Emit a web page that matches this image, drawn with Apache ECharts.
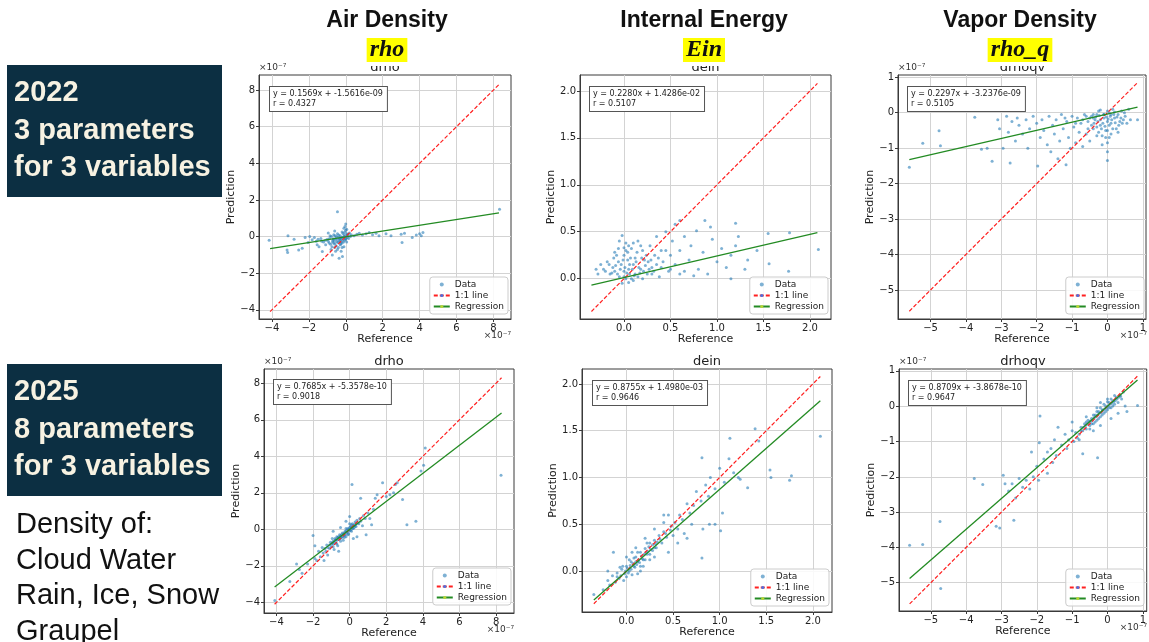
<!DOCTYPE html>
<html><head><meta charset="utf-8">
<script src="https://cdn.jsdelivr.net/npm/echarts@6/dist/echarts.min.js"></script>
<style>html,body{margin:0;padding:0;background:#fff}#c{width:1149px;height:642px}</style>
</head><body><div id="c"></div>
<script>
// ---------- DATA (units as shown on axes; drho & drhoqv in 1e-7) ----------
const columnHeaders = ['Air Density', 'Internal Energy', 'Vapor Density'];
const columnSymbols = ['rho', 'Ein', 'rho_q'];
const panelTitles = ['drho', 'dein', 'drhoqv', 'drho', 'dein', 'drhoqv'];
const rowLabels = [['2022', '3 parameters', 'for 3 variables'], ['2025', '8 parameters', 'for 3 variables']];
const noteLines = ['Density of:', 'Cloud Water', 'Rain, Ice, Snow', 'Graupel'];

const equations = [
  'y = 0.1569x + -1.5616e-09\nr = 0.4327',
  'y = 0.2280x + 1.4286e-02\nr = 0.5107',
  'y = 0.2297x + -3.2376e-09\nr = 0.5105',
  'y = 0.7685x + -5.3578e-10\nr = 0.9018',
  'y = 0.8755x + 1.4980e-03\nr = 0.9646',
  'y = 0.8709x + -3.8678e-10\nr = 0.9647'
];

const ticksRho = [-4, -2, 0, 2, 4, 6, 8];
const ticksEin = [0, 0.5, 1.0, 1.5, 2.0];
const ticksQv = [-5, -4, -3, -2, -1, 0, 1];

// 1:1 line and regression line endpoints
const oneToOne = [
  [[-4.1, -4.1], [8.3, 8.3]],
  [[-0.35, -0.35], [2.08, 2.08]],
  [[-5.6, -5.6], [0.85, 0.85]],
  [[-4.1, -4.1], [8.3, 8.3]],
  [[-0.35, -0.35], [2.08, 2.08]],
  [[-5.6, -5.6], [0.85, 0.85]]
];
const regression = [
  [[-4.1, -0.66], [8.3, 1.29]],
  [[-0.35, -0.07], [2.08, 0.49]],
  [[-5.6, -1.32], [0.85, 0.16]],
  [[-4.1, -3.16], [8.3, 6.37]],
  [[-0.35, -0.31], [2.08, 1.82]],
  [[-5.6, -4.88], [0.85, 0.74]]
];

const pts2022Rho = [[8.33,1.49],[-4.15,-0.2],[-3.18,-0.73],[-3.15,-0.87],[-3.13,0.04],[-2.55,-0.73],[-2.36,-0.64],[-2.04,-0.33],[-1.95,0.0],[-1.82,-0.18],[-1.7,-0.05],[-1.55,-0.45],[-1.45,-0.55],[-1.27,-0.82],[-1.09,-0.45],[-1.6,-0.25],[-1.35,-0.1],[-1.2,-0.3],[-1.0,-0.15],[-0.9,-0.35],[-0.85,0.05],[-0.75,-0.55],[-0.7,-0.2],[-0.65,0.1],[-0.6,-0.4],[-0.55,-0.1],[-0.5,-0.3],[-0.45,1.36],[-0.45,0.15],[-0.4,-0.6],[-0.4,-0.05],[-0.35,-0.25],[-0.3,0.05],[-0.3,-0.45],[-0.25,-0.15],[-0.2,0.25],[-0.2,-0.35],[-0.15,-0.05],[-0.1,-0.55],[-0.1,0.1],[-0.05,-0.2],[0.0,0.69],[-0.04,0.55],[0.0,0.35],[0.0,-0.1],[0.05,-0.3],[0.05,0.15],[0.1,0.05],[0.15,-0.1],[0.2,0.2],[0.25,0.0],[0.3,0.1],[-0.36,-1.18],[-0.18,-1.09],[-0.73,-1.0],[-0.55,-0.8],[-0.25,-0.8],[0.45,0.05],[0.6,0.12],[0.73,0.18],[0.9,0.08],[1.1,0.15],[1.27,0.22],[1.45,0.1],[1.64,0.18],[1.8,0.05],[2.18,0.15],[2.45,0.04],[3.0,0.13],[3.05,-0.33],[3.18,0.18],[3.6,-0.05],[3.82,0.09],[4.0,0.15],[4.18,0.22],[4.09,0.04],[-2.8,-0.15],[-2.2,-0.05],[-0.8,-0.7],[-0.95,0.2],[-0.6,0.3],
  [-0.95,-0.25],[-0.88,-0.1],[-0.82,-0.42],[-0.78,0.0],[-0.72,-0.3],[-0.68,-0.12],[-0.62,-0.22],[-0.58,0.05],[-0.52,-0.5],[-0.48,-0.18],[-0.42,-0.32],[-0.38,0.08],[-0.33,-0.1],[-0.28,-0.28],[-0.22,-0.05],[-0.18,-0.2],[-0.12,-0.3],[-0.08,0.0],[-0.02,-0.15],[0.02,0.05],[0.08,-0.05],[0.12,0.12],[-0.5,0.0],[-0.27,-0.4],[-0.15,0.18],[-0.35,-0.15],[-0.65,-0.35],[-1.1,-0.2],[-1.3,-0.25],[-1.5,-0.15],[-0.05,0.25],[0.05,0.4],[-0.1,0.45],[-0.2,-0.6],[-0.45,-0.7],[-0.6,-0.6]];
const pts2022Ein = [[2.09,0.31],[1.77,0.08],[1.56,0.16],[1.55,0.48],[1.78,0.49],[1.43,0.3],[1.33,0.2],[1.3,0.1],[1.2,0.59],[1.23,0.45],[1.15,0.25],[1.1,0.12],[1.05,0.32],[0.95,0.42],[0.93,0.55],[0.87,0.62],[0.78,0.51],[0.72,0.35],[0.65,0.45],[0.6,0.62],[0.55,0.58],[0.52,0.4],[0.5,0.25],[0.45,0.5],[0.4,0.3],[0.35,0.45],[1.15,0.0],[0.9,0.05],[0.8,0.1],[0.7,0.2],[0.65,0.08],[0.55,0.15],[1.0,0.18],[1.2,0.35],[0.85,0.28],[0.75,0.03],[0.6,0.3],[0.48,0.08],[0.42,0.18],[0.38,0.02],[0.33,0.25],[0.3,0.12],[0.28,0.35],[0.25,0.05],[0.22,0.2],[0.2,0.3],[0.18,0.1],[0.15,0.4],[0.15,0.02],[0.12,0.22],[0.1,0.15],[0.08,0.32],[0.06,0.05],[0.05,0.1],[0.04,0.2],[0.02,0.38],[0.02,0.0],[0.0,0.08],[-0.02,0.46],[-0.03,0.15],[-0.05,0.4],[-0.05,0.02],[-0.08,0.25],[-0.1,0.28],[-0.1,0.08],[-0.12,0.12],[-0.15,0.05],[-0.18,0.18],[-0.2,0.08],[-0.25,0.15],[-0.28,0.05],[-0.3,0.1],[-0.02,-0.05],[0.05,-0.04],[0.1,-0.02],[0.2,0.0],[0.3,0.05],[0.08,0.0],[0.12,0.05],[0.0,0.25],[-0.06,0.32],
  [0.0,0.02],[0.01,0.12],[0.03,0.06],[0.04,0.28],[0.06,0.15],[0.07,0.22],[0.09,0.1],[0.11,0.03],[0.13,0.18],[0.14,0.28],[0.16,0.12],[0.17,0.06],[0.19,0.22],[0.21,0.08],[0.23,0.14],[0.24,0.25],[0.26,0.18],[0.27,0.1],[0.29,0.2],[0.32,0.08],[0.35,0.15],[0.37,0.22],[-0.01,0.2],[-0.04,0.1],[-0.06,0.18],[-0.07,0.05],[-0.09,0.14],[-0.11,0.22],[-0.13,0.06],[-0.16,0.15],[-0.22,0.1],[0.02,0.3],[0.05,0.35],[0.1,0.38],[0.0,0.33],[0.18,0.35],[0.4,0.12],[0.45,0.3],[0.5,0.1],[0.6,0.05]];
const pts2022Qv = [[-5.6,-1.54],[-5.22,-0.86],[-4.76,-0.51],[-4.72,-0.93],[-3.75,-0.13],[-3.56,-1.03],[-3.26,-1.37],[-2.75,-1.42],[-3.4,-1.0],[-3.1,-0.2],[-3.05,-0.45],[-2.95,-1.0],[-2.85,-0.1],[-2.8,-0.55],[-2.7,-0.25],[-2.6,-0.8],[-2.55,-0.15],[-2.5,-0.35],[-2.4,-0.6],[-2.3,-0.2],[-2.25,-1.0],[-2.2,-0.45],[-2.1,-0.1],[-2.0,-0.3],[-1.97,-1.5],[-1.9,-0.7],[-1.85,-0.2],[-1.8,-0.5],[-1.7,-0.9],[-1.65,-0.1],[-1.6,-1.1],[-1.55,-0.35],[-1.5,-0.6],[-1.45,-0.2],[-1.4,-1.3],[-1.35,-0.8],[-1.3,-0.05],[-1.25,-0.45],[-1.17,-1.47],[-1.15,-0.25],[-1.1,-0.7],[-1.05,-1.0],[-1.0,-0.1],[-0.95,-0.4],[-0.9,-0.85],[-0.85,-0.15],[-0.8,-0.55],[-0.75,-0.3],[-0.7,-0.95],[-0.65,-0.05],[-0.6,-0.6],[-0.55,-0.25],[-0.5,-0.8],[-0.45,-0.1],[-0.4,-0.45],[-0.35,-0.2],[-0.3,-0.65],[-0.25,0.05],[-0.2,-0.35],[-0.15,-0.9],[-0.1,-0.15],[-0.05,-0.5],[0.0,-1.35],[0.0,-1.1],[0.0,-0.25],[0.05,0.0],[0.05,-0.7],[0.1,-0.3],[0.15,0.1],[0.2,-0.15],[0.25,-0.45],[0.3,-0.05],[0.35,-0.25],[0.4,0.05],[0.45,-0.2],[0.5,-0.1],[0.55,-0.3],[0.85,-0.2],[-0.3,-0.05],[-0.2,0.08],[-0.1,-0.05],[0.1,-0.05],[0.2,0.02],[-0.4,-0.15],[0.0,0.05],
  [-0.7,-0.2],[-0.6,-0.1],[-0.55,-0.45],[-0.5,-0.15],[-0.45,-0.35],[-0.4,-0.05],[-0.38,-0.3],[-0.33,-0.12],[-0.3,-0.4],[-0.27,-0.25],[-0.23,-0.08],[-0.2,-0.2],[-0.17,-0.45],[-0.13,-0.3],[-0.1,-0.05],[-0.07,-0.38],[-0.03,-0.12],[0.0,-0.5],[0.02,-0.18],[0.05,-0.35],[0.08,-0.1],[0.12,-0.2],[0.15,-0.45],[0.18,-0.05],[0.22,-0.28],[0.27,-0.12],[0.32,-0.35],[0.38,-0.15],[0.42,-0.3],[0.48,0.0],[-0.05,-0.7],[0.1,-0.6],[-0.15,-0.65],[0.0,-0.85],[-0.25,-0.55],[0.3,-0.55],[0.6,0.1],[0.65,-0.2],[-0.9,-0.3],[-1.2,-0.15]];
const pts2025Rho = [[8.27,2.96],[4.13,4.45],[4.04,3.51],[3.9,3.2],[3.62,0.45],[3.13,0.25],[2.89,1.64],[2.6,2.55],[2.5,2.45],[2.4,2.0],[2.2,1.9],[2.0,1.8],[1.8,2.55],[1.5,1.9],[1.4,1.7],[1.2,0.25],[0.13,2.45],[-2.0,-0.33],[-4.09,-3.89],[-3.27,-2.85],[-2.9,-1.9],[-2.6,-2.4],[-2.75,-2.2],[-2.3,-1.9],[-1.9,-1.6],[-1.7,-1.2],[-1.5,-1.0],[-1.2,-1.4],[-1.9,-0.9],[-1.8,-1.7],[-1.6,-1.5],[-1.45,-1.3],[-1.35,-1.05],[-1.25,-0.85],[-1.1,-1.05],[-1.05,-0.7],[-1.0,-0.95],[-0.95,-0.5],[-0.9,-0.8],[-0.85,-1.1],[-0.8,-0.6],[-0.75,-0.75],[-0.7,-0.4],[-0.65,-0.9],[-0.6,-0.55],[-0.55,-0.3],[-0.5,-0.65],[-0.45,-0.45],[-0.4,-0.2],[-0.35,-0.6],[-0.3,-0.35],[-0.25,-0.1],[-0.2,-0.4],[-0.15,-0.2],[-0.1,0.05],[-0.05,-0.25],[0.0,-0.05],[0.0,0.7],[0.05,0.15],[0.1,-0.1],[0.15,0.3],[0.2,0.05],[0.25,0.25],[0.3,0.4],[0.35,0.15],[0.4,0.5],[0.5,0.3],[0.55,0.6],[0.6,0.45],[0.7,0.2],[0.75,0.75],[0.85,0.6],[0.9,-0.3],[1.0,0.9],[1.1,0.6],[1.3,1.1],[0.6,1.7],[0.4,-0.4],[0.2,-0.5],[-0.2,0.45],[-0.5,0.1],[-0.9,-0.1],[-1.4,-1.7],[-0.6,-1.2],
  [-1.3,-1.2],[-1.2,-1.0],[-1.1,-0.85],[-1.0,-0.8],[-0.95,-0.75],[-0.9,-0.65],[-0.85,-0.7],[-0.8,-0.5],[-0.75,-0.55],[-0.7,-0.6],[-0.65,-0.45],[-0.6,-0.4],[-0.55,-0.5],[-0.5,-0.35],[-0.45,-0.3],[-0.4,-0.4],[-0.35,-0.25],[-0.3,-0.2],[-0.25,-0.3],[-0.2,-0.15],[-0.15,-0.05],[-0.1,-0.15],[-0.05,0.0],[0.0,0.1],[0.05,-0.05],[0.1,0.1],[0.15,0.05],[0.2,0.2],[0.25,0.1],[0.3,0.2],[0.35,0.3],[0.45,0.35],[-0.5,-0.5],[-0.7,-0.8],[-0.9,-0.95],[-0.3,-0.45],[-0.1,-0.3],[0.1,0.25],[-0.2,0.05],[0.0,0.3]];
const pts2025Ein = [[2.08,1.44],[1.77,1.02],[1.75,0.97],[1.54,1.08],[1.55,1.0],[1.42,1.39],[1.38,1.52],[1.3,0.89],[1.11,1.42],[1.2,1.0],[1.22,0.98],[1.01,0.43],[0.95,0.5],[0.89,0.5],[0.81,1.21],[0.81,0.14],[0.82,0.45],[1.03,0.62],[1.15,1.05],[1.1,1.2],[1.05,0.95],[1.0,1.1],[0.95,0.88],[0.9,1.0],[0.88,0.8],[0.85,0.92],[0.8,0.75],[0.75,0.85],[0.72,0.7],[0.7,0.5],[0.68,0.62],[0.65,0.72],[0.62,0.4],[0.6,0.55],[0.57,0.6],[0.55,0.45],[0.52,0.52],[0.5,0.38],[0.48,0.48],[0.45,0.6],[0.43,0.36],[0.4,0.42],[0.38,0.3],[0.35,0.38],[0.32,0.25],[0.3,0.33],[0.28,0.22],[0.25,0.3],[0.22,0.18],[0.2,0.24],[0.18,0.12],[0.15,0.2],[0.12,0.1],[0.1,0.15],[0.08,0.05],[0.05,0.1],[0.03,0.0],[0.0,0.05],[-0.02,-0.03],[-0.05,0.02],[-0.08,-0.08],[-0.1,-0.02],[-0.12,-0.12],[-0.15,-0.05],[-0.18,-0.15],[-0.2,-0.1],[-0.25,-0.2],[-0.35,-0.25],[-0.2,0.0],[-0.14,0.2],[0.0,0.15],[0.1,0.25],[0.15,0.05],[0.2,0.35],[0.25,0.12],[0.3,0.45],[0.4,0.6],[0.45,0.2],[0.55,0.3],[0.65,0.35],[0.3,0.15],[0.06,0.2],[0.12,-0.03],[0.4,0.52],
  [-0.1,-0.06],[-0.06,-0.05],[-0.04,0.05],[-0.01,0.0],[0.01,0.03],[0.02,-0.02],[0.04,0.06],[0.05,0.02],[0.07,0.08],[0.09,0.04],[0.1,0.1],[0.11,0.07],[0.13,0.12],[0.14,0.09],[0.16,0.16],[0.17,0.13],[0.19,0.18],[0.21,0.2],[0.23,0.21],[0.24,0.26],[0.26,0.23],[0.28,0.28],[0.31,0.29],[0.33,0.31],[0.36,0.34],[0.03,0.12],[0.0,-0.06],[-0.07,0.04],[0.06,-0.04],[0.08,0.14],[0.15,0.0],[0.2,0.12],[0.12,0.2],[0.25,0.18],[0.3,0.25],[-0.03,-0.1],[0.18,0.05],[0.22,0.3],[0.42,0.4],[0.47,0.44]];
const pts2025Qv = [[-5.6,-3.94],[-5.23,-3.92],[-4.74,-3.27],[-4.72,-5.16],[-3.77,-2.05],[-3.53,-2.22],[-3.15,-3.4],[-3.05,-3.45],[-2.95,-1.96],[-2.9,-2.2],[-2.8,-2.4],[-2.7,-2.2],[-2.65,-3.23],[-2.5,-2.05],[-2.4,-2.3],[-2.3,-2.1],[-2.2,-2.35],[-2.1,-2.0],[-1.91,-0.28],[-1.93,-1.04],[-2.15,-1.3],[-2.0,-1.7],[-1.95,-2.1],[-1.8,-1.5],[-1.7,-1.3],[-1.6,-1.2],[-1.5,-0.95],[-1.45,-1.4],[-1.4,-0.6],[-1.3,-1.1],[-1.2,-0.8],[-1.15,-1.2],[-1.1,-0.95],[-1.0,-0.7],[-0.95,-1.0],[-0.9,-0.75],[-0.85,-0.9],[-0.8,-0.8],[-0.75,-0.6],[-0.7,-1.35],[-0.7,-0.7],[-0.65,-0.5],[-0.6,-0.65],[-0.55,-0.4],[-0.5,-0.55],[-0.45,-0.35],[-0.4,-0.5],[-0.35,-0.25],[-0.3,-0.4],[-0.28,-1.46],[-0.25,-0.15],[-0.2,-0.3],[-0.15,-0.1],[-0.1,-0.2],[-0.05,0.0],[0.0,-0.1],[0.05,0.1],[0.1,-0.05],[0.15,0.15],[0.2,0.05],[0.25,0.25],[0.3,0.1],[0.35,0.3],[0.4,0.2],[0.45,0.4],[0.5,0.0],[0.55,-0.15],[0.85,0.02],[-0.6,-0.3],[-0.4,-0.7],[-0.2,0.1],[0.0,0.2],[0.1,-0.35],[-0.3,-0.05],[-1.7,-1.9],[-1.55,-1.6],[-2.6,-2.6],[-1.0,-0.45],[-0.2,-0.55],[0.3,-0.2],
  [-0.75,-0.7],[-0.68,-0.6],[-0.62,-0.55],[-0.57,-0.5],[-0.52,-0.45],[-0.48,-0.42],[-0.43,-0.4],[-0.38,-0.33],[-0.33,-0.3],[-0.28,-0.25],[-0.23,-0.2],[-0.18,-0.18],[-0.13,-0.12],[-0.08,-0.08],[-0.03,-0.05],[0.02,0.0],[0.07,0.05],[0.12,0.08],[0.17,0.12],[0.22,0.15],[0.27,0.2],[0.32,0.25],[0.37,0.28],[-0.45,-0.5],[-0.35,-0.45],[-0.25,-0.35],[-0.15,-0.25],[-0.05,-0.15],[0.05,-0.05],[0.15,0.0],[-0.4,-0.25],[-0.3,-0.15],[-0.2,-0.05],[-0.1,0.05],[0.0,0.12],[0.1,0.2],[0.2,0.3],[-0.6,-0.45],[-0.5,-0.65],[-0.8,-0.95]];

const scatterData = [pts2022Rho, pts2022Ein, pts2022Qv, pts2025Rho, pts2025Ein, pts2025Qv];

// ---------- LAYOUT / STYLE ----------
const frames = [
  {left:259, top:75, width:252, height:244, xr:[-4.7,8.95], yr:[-4.5,8.82], kind:'rho'},
  {left:580, top:75, width:251, height:244, xr:[-0.473,2.226], yr:[-0.43,2.17], kind:'ein'},
  {left:898, top:75, width:249, height:244, xr:[-5.92,1.09], yr:[-5.82,1.065], kind:'qv'},
  {left:264, top:369, width:250, height:244, xr:[-4.68,8.98], yr:[-4.58,8.78], kind:'rho'},
  {left:582, top:369, width:250, height:243, xr:[-0.477,2.205], yr:[-0.438,2.16], kind:'ein'},
  {left:899, top:369, width:248, height:242, xr:[-5.9,1.11], yr:[-5.8,1.05], kind:'qv'}
];
const legendTop = [277, 277, 277, 568, 569, 569];
const eqPos = [[269,86],[589,86],[907,86],[273,379],[592,380],[908,380]];

const MPL = 'DejaVu Sans';
const minus = v => (v < 0 ? '\u2212' : '');
const fmtInt = v => minus(v) + Math.abs(Math.round(v));
const fmt1 = v => minus(v) + Math.abs(v).toFixed(1);
const tickFor = k => k === 'rho' ? ticksRho : (k === 'ein' ? ticksEin : ticksQv);
const fmtFor = k => k === 'ein' ? fmt1 : fmtInt;
const W = 1149;

const grids = [], xAxes = [], yAxes = [], series = [], legends = [], graphics = [];

frames.forEach((f, i) => {
  grids.push({left:f.left, top:f.top, width:f.width, height:f.height, show:true,
    borderColor:'#3a3a3a', borderWidth:1, backgroundColor:'transparent', containLabel:false});
  const ticks = tickFor(f.kind), fmt = fmtFor(f.kind);
  const axisCommon = (name, gap, rot) => ({
    type:'value', gridIndex:i, scale:false,
    name:name, nameLocation:'middle', nameGap:gap, nameRotate:rot,
    nameTextStyle:{fontFamily:MPL, fontSize:11, color:'#222'},
    axisLine:{show:true, onZero:false, lineStyle:{color:'#3a3a3a', width:1}},
    axisTick:{show:true, customValues:ticks, length:3, lineStyle:{color:'#3a3a3a'}},
    axisLabel:{customValues:ticks, formatter:fmt, fontFamily:MPL, fontSize:10, color:'#222', margin:4},
    splitLine:{show:true, lineStyle:{color:'#d3d3d3', width:1}}
  });
  xAxes.push(Object.assign(axisCommon('Reference', 14, 0), {min:f.xr[0], max:f.xr[1]}));
  yAxes.push(Object.assign(axisCommon('Prediction', 21, 90), {min:f.yr[0], max:f.yr[1]}));

  series.push({type:'scatter', name:'Data', xAxisIndex:i, yAxisIndex:i, data:scatterData[i],
    symbolSize:3, itemStyle:{color:'rgba(31,119,180,0.72)'}, z:3});
  series.push({type:'line', name:'1:1 line', xAxisIndex:i, yAxisIndex:i, data:oneToOne[i],
    symbol:'none', lineStyle:{color:'#ff2020', width:1.2, type:[4,2]}, z:4});
  series.push({type:'line', name:'Regression', xAxisIndex:i, yAxisIndex:i, data:regression[i],
    symbol:'none', lineStyle:{color:'#238b23', width:1.3}, z:5});

  legends.push({right:W - (f.left + f.width) + 3, top:legendTop[i], orient:'vertical', itemGap:2,
    itemWidth:16, itemHeight:4, padding:[3,4,3,3], backgroundColor:'rgba(255,255,255,0.85)',
    borderColor:'#cccccc', borderWidth:1, borderRadius:3, selectedMode:false,
    textStyle:{fontFamily:MPL, fontSize:9, color:'#222'},
    data:[{name:'Data', icon:'circle'}, {name:'1:1 line'}, {name:'Regression'}]});

  graphics.push({type:'text', left:eqPos[i][0], top:eqPos[i][1], z:20,
    style:{text:equations[i], font:'8px "DejaVu Sans"', fill:'#222', backgroundColor:'#fff',
      borderColor:'#555', borderWidth:1, padding:[2,4,2,3], lineHeight:10}});

  const cx = f.left + f.width / 2;
  const top = i < 3;
  graphics.push({type:'text', x:cx, y: top ? 68 : 362, z:20,
    style:{text:panelTitles[i], font:'13px "DejaVu Sans"', fill:'#222', align:'center', verticalAlign:'middle'}});
  if (f.kind !== 'ein') {
    graphics.push({type:'text', x:f.left, y:f.top - 3, z:40,
      style:{text:'\u00d710\u207b\u2077', font:'9px "DejaVu Sans"', fill:'#333', align:'left', verticalAlign:'bottom'}});
    graphics.push({type:'text', x:f.left + f.width, y:f.top + f.height + 17, z:20,
      style:{text:'\u00d710\u207b\u2077', font:'9px "DejaVu Sans"', fill:'#333', align:'right', verticalAlign:'middle'}});
  }
});

// white mask hiding upper half of the top-row titles (as on the slide)
graphics.push({type:'rect', shape:{x:232, y:0, width:917, height:66}, style:{fill:'#fff'}, z:30});

// column headers
const headerX = [387, 704, 1020];
headerX.forEach((x, j) => {
  graphics.push({type:'text', x:x, y:21, z:31,
    style:{text:columnHeaders[j], font:'bold 23px "Liberation Sans"', fill:'#111', align:'center', verticalAlign:'middle'}});
  graphics.push({type:'text', x:x, y:50, z:31,
    style:{text:columnSymbols[j], font:'italic bold 24px "Liberation Serif"', fill:'#111', align:'center', verticalAlign:'middle',
      backgroundColor:'#ffff00', padding:[0,3,0,3]}});
});

// left row label boxes
const boxTops = [65, 364];
boxTops.forEach((bt, r) => {
  graphics.push({type:'rect', shape:{x:7, y:bt, width:215, height:132}, style:{fill:'#0c2f42'}, z:31});
  rowLabels[r].forEach((t, k) => {
    graphics.push({type:'text', x:14, y:bt + 28 + k * 37.5, z:32,
      style:{text:t, font:'bold 29px "Liberation Sans"', fill:'#f7f2e2', align:'left', verticalAlign:'middle'}});
  });
});
noteLines.forEach((t, k) => {
  graphics.push({type:'text', x:16, y:525 + k * 35.5, z:32,
    style:{text:t, font:'29px "Liberation Sans"', fill:'#111', align:'left', verticalAlign:'middle'}});
});

const chart = echarts.init(document.getElementById('c'), null, {renderer:'canvas'});
chart.setOption({
  animation:false,
  backgroundColor:'#ffffff',
  textStyle:{fontFamily:MPL},
  grid:grids, xAxis:xAxes, yAxis:yAxes, series:series, legend:legends, graphic:graphics
});
</script>
</body></html>
